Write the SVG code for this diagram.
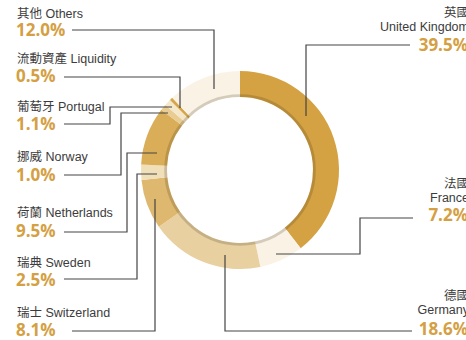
<svg xmlns="http://www.w3.org/2000/svg" width="466" height="340" viewBox="0 0 466 340">
<style>
.lbl{font-family:"Liberation Sans","Noto Sans CJK TC",sans-serif;font-size:12.5px;fill:#3c3c3c}
.pct{font-family:"Open Sans","Liberation Sans",sans-serif;font-size:17px;font-weight:bold;fill:#D4A043}
.r{text-anchor:end}
.conn path{fill:none;stroke:#444;stroke-width:1.2}
</style>
<rect width="466" height="340" fill="#fff"/>
<g id="ring">
<path id="seg-uk" d="M240 71 A99 99 0 0 1 300.68 248.23 L284.74 227.68 A73 73 0 0 0 240 97 Z" fill="#D4A243"/>
<path id="seg-france" d="M300.68 248.23 A99 99 0 0 1 260.38 266.88 L255.03 241.44 A73 73 0 0 0 284.74 227.68 Z" fill="#FAF3E5"/>
<path id="seg-germany" d="M260.38 266.88 A99 99 0 0 1 158.82 226.68 L180.14 211.79 A73 73 0 0 0 255.03 241.44 Z" fill="#E8D0A0"/>
<path id="seg-switzerland" d="M158.82 226.68 A99 99 0 0 1 141.5 179.94 L167.37 177.33 A73 73 0 0 0 180.14 211.79 Z" fill="#DEB86F"/>
<path id="seg-sweden" d="M141.5 179.94 A99 99 0 0 1 141.16 164.41 L167.12 165.87 A73 73 0 0 0 167.37 177.33 Z" fill="#F1DFBA"/>
<path id="seg-netherlands" d="M141.16 164.41 A99 99 0 0 1 161.39 109.82 L182.04 125.62 A73 73 0 0 0 167.12 165.87 Z" fill="#DAAE58"/>
<path id="seg-norway" d="M161.39 109.82 A99 99 0 0 1 165.34 104.98 L184.95 122.06 A73 73 0 0 0 182.04 125.62 Z" fill="#E8CC92"/>
<path id="seg-portugal" d="M165.34 104.98 A99 99 0 0 1 170 100 L188.38 118.38 A73 73 0 0 0 184.95 122.06 Z" fill="#F5E7CA"/>
<path id="seg-liquidity" d="M170 100 A99 99 0 0 1 172.23 97.83 L190.03 116.78 A73 73 0 0 0 188.38 118.38 Z" fill="#D6A548"/>
<path id="seg-others" d="M172.23 97.83 A99 99 0 0 1 240 71 L240 97 A73 73 0 0 0 190.03 116.78 Z" fill="#FAF3E5"/>
<circle cx="240" cy="170" r="74.4" fill="none" stroke="rgba(60,45,20,0.2)" stroke-width="2.8"/>
</g>
<g class="conn" id="connectors">
<path d="M72 30 H214 V89"/>
<path d="M64 77 H180 V108"/>
<path d="M64 124 H110 V107 H172"/>
<path d="M64 175 H121 V113 H168"/>
<path d="M64 232 H127 V153 H157"/>
<path d="M64 279 H137 V174 H157"/>
<path d="M72 331 H155 V199"/>
<path d="M225 255 V331 H412"/>
<path d="M276 254 H360 V218 H413"/>
<path d="M306 116 V45 H410"/>
</g>
<g id="others"><text class="lbl" x="17" y="18">其他 Others</text><text class="pct" x="16" y="36">12.0%</text></g>
<g id="liquidity"><text class="lbl" x="17" y="63">流動資產 Liquidity</text><text class="pct" x="16" y="82">0.5%</text></g>
<g id="portugal"><text class="lbl" x="17" y="111">葡萄牙 Portugal</text><text class="pct" x="16" y="130">1.1%</text></g>
<g id="norway"><text class="lbl" x="17" y="161">挪威 Norway</text><text class="pct" x="16" y="181">1.0%</text></g>
<g id="netherlands"><text class="lbl" x="17" y="217">荷蘭 Netherlands</text><text class="pct" x="16" y="237">9.5%</text></g>
<g id="sweden"><text class="lbl" x="17" y="267">瑞典 Sweden</text><text class="pct" x="16" y="286">2.5%</text></g>
<g id="switzerland"><text class="lbl" x="17" y="317">瑞士 Switzerland</text><text class="pct" x="16" y="336">8.1%</text></g>
<g id="uk"><text class="lbl r" x="469" y="17">英國</text><text class="lbl r" x="469" y="31">United Kingdom</text><text class="pct r" x="468" y="51">39.5%</text></g>
<g id="france"><text class="lbl r" x="469" y="188">法國</text><text class="lbl r" x="469" y="202">France</text><text class="pct r" x="468" y="221">7.2%</text></g>
<g id="germany"><text class="lbl r" x="469" y="300">德國</text><text class="lbl r" x="469" y="314">Germany</text><text class="pct r" x="468" y="335">18.6%</text></g>
</svg>
